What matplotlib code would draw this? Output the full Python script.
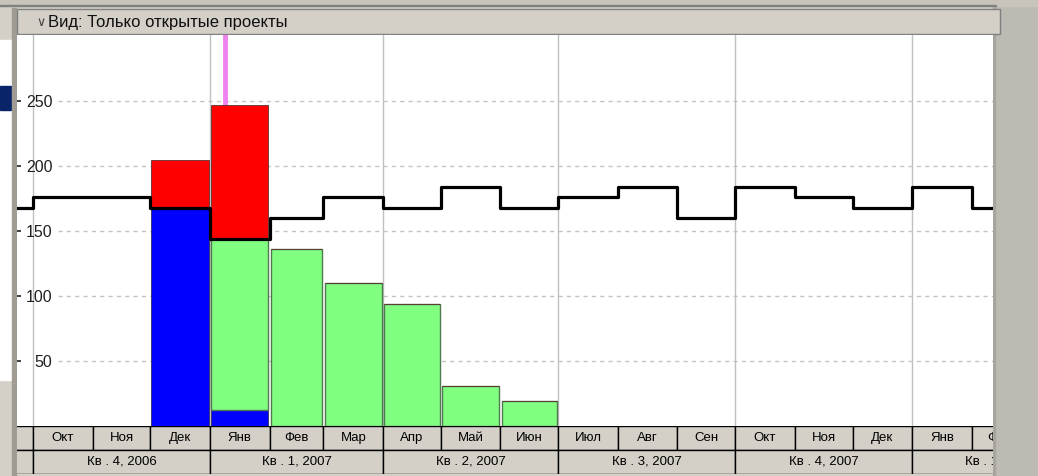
import matplotlib.pyplot as plt
import numpy as np
from matplotlib.patches import Rectangle

plt.rcParams['font.family'] = ['Liberation Sans', 'DejaVu Sans']

# month grid (Sep 2006 .. Feb 2008) and capacity per month, hours
month_starts = ['2006-09-01', '2006-10-01', '2006-11-01', '2006-12-01', '2007-01-01', '2007-02-01',
                '2007-03-01', '2007-04-01', '2007-05-01', '2007-06-01', '2007-07-01', '2007-08-01',
                '2007-09-01', '2007-10-01', '2007-11-01', '2007-12-01', '2008-01-01', '2008-02-01',
                '2008-03-01']
month_labels = ['', 'Окт', 'Ноя', 'Дек', 'Янв', 'Фев', 'Мар', 'Апр', 'Май', 'Июн',
                'Июл', 'Авг', 'Сен', 'Окт', 'Ноя', 'Дек', 'Янв', 'Фев']
capacity = [168, 176, 176, 168, 144, 160, 176, 168, 184, 168, 176, 184, 160, 184, 176, 168, 184, 168]

quarter_starts = ['2006-07-01', '2006-10-01', '2007-01-01', '2007-04-01', '2007-07-01',
                  '2007-10-01', '2008-01-01', '2008-04-01']
quarter_labels = ['', 'Кв . 4, 2006', 'Кв . 1, 2007', 'Кв . 2, 2007', 'Кв . 3, 2007',
                  'Кв . 4, 2007', 'Кв . 1, 2008']

# work per month, Dec 2006 .. Jun 2007
bar_months = ['2006-12-01', '2007-01-01', '2007-02-01', '2007-03-01', '2007-04-01', '2007-05-01', '2007-06-01']
bar_ends = ['2007-01-01', '2007-02-01', '2007-03-01', '2007-04-01', '2007-05-01', '2007-06-01', '2007-07-01']
blue = [168, 12, 0, 0, 0, 0, 0]
green = [0, 132, 136, 110, 94, 31, 19]
red = [37, 103, 0, 0, 0, 0, 0]

today = '2007-01-09'

origin = np.datetime64('2006-10-01')


def day(s):
    return (np.array(s, dtype='datetime64[D]') - origin).astype(float)


W, H = 1038, 476
fig = plt.figure(figsize=(W / 100, H / 100), dpi=100, facecolor='#d4d0c8')


def box(x0, y0, x1, y1):
    return [x0 / W, 1 - y1 / H, (x1 - x0) / W, (y1 - y0) / H]


# window chrome
bg = fig.add_axes([0, 0, 1, 1])
bg.set_xlim(0, W)
bg.set_ylim(H, 0)
bg.axis('off')
bg.add_patch(Rectangle((995, 0), 43, H, color='#bdbab3'))
bg.add_patch(Rectangle((993, 0), 2, H, color='#a8a59f'))
bg.add_patch(Rectangle((0, 0), 1038, 6, color='#c8c4bc'))
bg.add_patch(Rectangle((0, 5), 996, 1.2, color='#808080'))
bg.add_patch(Rectangle((0, 40), 11, 340, color='white'))
bg.add_patch(Rectangle((0, 86), 11, 24, color='#0a246a'))
bg.add_patch(Rectangle((12, 8), 4, H, color='#a09c94'))
bg.add_patch(Rectangle((17, 9), 983, 25, facecolor='#d4d0c8', edgecolor='#808080', lw=1))
bg.text(36, 22, '∨', fontsize=9, color='#404040', va='center', family='DejaVu Sans')
bg.text(48, 22, 'Вид: Только открытые проекты', fontsize=12, va='center', color='#101010')

edges = day(month_starts)
x_lo = -8.3
x_hi = 499.0

ax = fig.add_axes(box(17, 35, 993, 426))
ax.set_facecolor('white')
ax.set_xlim(x_lo, x_hi)
ax.set_ylim(0, 300.8)
for s in ax.spines.values():
    s.set_visible(False)
ax.set_xticks([])
ax.set_yticks([50, 100, 150, 200, 250])
ax.tick_params(axis='y', direction='in', length=3, width=1.2, pad=-25.5, labelsize=11.5, colors='#202020')

for y in [50, 100, 150, 200, 250]:
    ax.axhline(y, xmin=41 / 976, xmax=1, color='#c4c4c4', lw=1, dashes=(3, 3), zorder=0)
for q in day(quarter_starts[1:-1]):
    ax.axvline(q, color='#c0c0c0', lw=1, zorder=0)

ax.axvline(day(today), color='#ee82ee', lw=3.5, zorder=1)

left = day(bar_months) + 0.6
width = day(bar_ends) - day(bar_months) - 1.2
ax.bar(left, blue, width, align='edge', color='#0000ff', edgecolor='#303060', lw=0.6, zorder=2)
ax.bar(left, green, width, bottom=blue, align='edge', color='#80ff80', edgecolor='#4f7a4f', lw=1, zorder=2)
ax.bar(left, red, width, bottom=np.array(blue) + np.array(green), align='edge',
       color='#ff0000', edgecolor='#603030', lw=0.6, zorder=2)

ax.step(np.r_[x_lo, edges[1:]], capacity + [capacity[-1]], where='post', color='black', lw=2.3, zorder=3)

# timescale header
hx = fig.add_axes(box(17, 426, 993, 474))
hx.set_xlim(x_lo, x_hi)
hx.set_ylim(0, 2)
hx.axis('off')
for i, lab in enumerate(month_labels):
    a, b = edges[i], edges[i + 1]
    hx.add_patch(Rectangle((a, 1), b - a, 1, facecolor='#d4d0c8', edgecolor='black', lw=1))
    hx.text((a + b) / 2, 1.5, lab, ha='center', va='center', fontsize=9.5, clip_on=True)
qe = day(quarter_starts)
for i, lab in enumerate(quarter_labels):
    a, b = qe[i], qe[i + 1]
    hx.add_patch(Rectangle((a, 0), b - a, 1, facecolor='#d4d0c8', edgecolor='black', lw=1))
    hx.text((a + b) / 2, 0.5, lab, ha='center', va='center', fontsize=9.5, clip_on=True)

fig.savefig('out.png', dpi=100, facecolor=fig.get_facecolor())
